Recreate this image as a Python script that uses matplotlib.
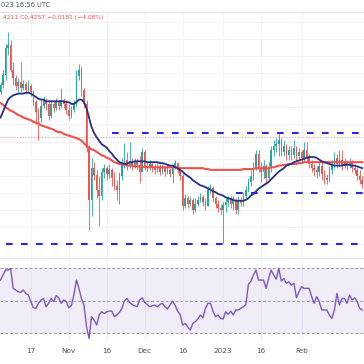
import numpy as np
import pandas as pd
import matplotlib
matplotlib.use("Agg")
import matplotlib.pyplot as plt
from matplotlib.lines import Line2D

# daily candles, 2022-10-05 .. 2023-02-25
start_date = "2022-10-05"
open0 = 0.478
closes = [0.486, 0.498, 0.529, 0.533, 0.504, 0.494, 0.485, 0.490, 0.483, 0.487,
          0.480, 0.485, 0.478, 0.466, 0.455, 0.448, 0.462, 0.469, 0.464, 0.450,
          0.464, 0.459, 0.466, 0.462, 0.469, 0.464, 0.457, 0.450, 0.457, 0.464,
          0.497, 0.504, 0.480, 0.464, 0.413, 0.352, 0.389, 0.381, 0.364, 0.357,
          0.385, 0.389, 0.382, 0.387, 0.378, 0.368, 0.364, 0.380, 0.394, 0.399,
          0.392, 0.396, 0.392, 0.396, 0.393, 0.385, 0.408, 0.392, 0.389, 0.394,
          0.389, 0.387, 0.392, 0.385, 0.389, 0.385, 0.387, 0.382, 0.390, 0.395,
          0.387, 0.380, 0.345, 0.354, 0.347, 0.352, 0.340, 0.347, 0.352, 0.355,
          0.350, 0.345, 0.364, 0.366, 0.354, 0.347, 0.343, 0.340, 0.346, 0.350,
          0.354, 0.347, 0.352, 0.340, 0.352, 0.348, 0.357, 0.364, 0.373, 0.380,
          0.389, 0.406, 0.389, 0.385, 0.392, 0.378, 0.389, 0.410, 0.415, 0.417,
          0.422, 0.408, 0.415, 0.404, 0.410, 0.404, 0.413, 0.403, 0.408, 0.401,
          0.410, 0.401, 0.394, 0.389, 0.387, 0.385, 0.392, 0.382, 0.378, 0.375,
          0.387, 0.394, 0.401, 0.394, 0.399, 0.392, 0.396, 0.392, 0.396, 0.389,
          0.387, 0.380, 0.375, 0.371]
highs = [0.490, 0.504, 0.534, 0.548, 0.539, 0.513, 0.498, 0.494, 0.513, 0.492,
         0.490, 0.492, 0.487, 0.480, 0.469, 0.459, 0.469, 0.473, 0.471, 0.469,
         0.469, 0.469, 0.471, 0.469, 0.483, 0.471, 0.469, 0.464, 0.462, 0.469,
         0.504, 0.511, 0.508, 0.483, 0.469, 0.416, 0.401, 0.396, 0.387, 0.380,
         0.389, 0.394, 0.392, 0.394, 0.389, 0.385, 0.375, 0.385, 0.401, 0.418,
         0.408, 0.420, 0.401, 0.401, 0.401, 0.403, 0.413, 0.410, 0.396, 0.399,
         0.396, 0.394, 0.396, 0.394, 0.394, 0.392, 0.393, 0.389, 0.394, 0.399,
         0.396, 0.389, 0.382, 0.359, 0.357, 0.357, 0.354, 0.354, 0.357, 0.360,
         0.358, 0.354, 0.368, 0.371, 0.368, 0.357, 0.352, 0.347, 0.350, 0.354,
         0.357, 0.357, 0.357, 0.354, 0.357, 0.355, 0.361, 0.368, 0.378, 0.387,
         0.396, 0.410, 0.410, 0.396, 0.399, 0.394, 0.396, 0.415, 0.422, 0.424,
         0.431, 0.424, 0.422, 0.417, 0.415, 0.415, 0.422, 0.415, 0.413, 0.410,
         0.420, 0.420, 0.406, 0.399, 0.394, 0.392, 0.396, 0.396, 0.387, 0.382,
         0.392, 0.399, 0.408, 0.406, 0.410, 0.410, 0.401, 0.399, 0.401, 0.399,
         0.394, 0.389, 0.387, 0.380]
lows = [0.476, 0.483, 0.492, 0.521, 0.501, 0.486, 0.480, 0.478, 0.478, 0.480,
        0.476, 0.478, 0.473, 0.462, 0.441, 0.422, 0.443, 0.459, 0.457, 0.445,
        0.448, 0.455, 0.457, 0.457, 0.459, 0.459, 0.452, 0.445, 0.448, 0.455,
        0.462, 0.492, 0.473, 0.459, 0.408, 0.317, 0.333, 0.375, 0.354, 0.322,
        0.352, 0.378, 0.375, 0.378, 0.368, 0.364, 0.352, 0.347, 0.375, 0.389,
        0.387, 0.389, 0.387, 0.389, 0.387, 0.372, 0.385, 0.387, 0.385, 0.387,
        0.385, 0.382, 0.385, 0.381, 0.382, 0.380, 0.382, 0.379, 0.372, 0.388,
        0.383, 0.375, 0.340, 0.343, 0.343, 0.345, 0.336, 0.338, 0.345, 0.350,
        0.345, 0.340, 0.345, 0.359, 0.350, 0.343, 0.338, 0.336, 0.302, 0.338,
        0.345, 0.343, 0.340, 0.336, 0.336, 0.345, 0.345, 0.354, 0.361, 0.368,
        0.375, 0.387, 0.385, 0.373, 0.378, 0.371, 0.375, 0.385, 0.403, 0.408,
        0.403, 0.403, 0.403, 0.399, 0.399, 0.399, 0.401, 0.396, 0.399, 0.396,
        0.396, 0.396, 0.389, 0.385, 0.380, 0.378, 0.380, 0.375, 0.371, 0.371,
        0.373, 0.382, 0.389, 0.389, 0.392, 0.387, 0.389, 0.387, 0.389, 0.385,
        0.382, 0.375, 0.371, 0.366]

# moving averages as shown on the chart
ema20 = [0.448, 0.455, 0.462, 0.469, 0.472, 0.474, 0.475, 0.476, 0.476, 0.476,
         0.477, 0.477, 0.476, 0.474, 0.472, 0.470, 0.469, 0.469, 0.467, 0.467,
         0.467, 0.467, 0.467, 0.467, 0.467, 0.467, 0.466, 0.466, 0.464, 0.464,
         0.466, 0.469, 0.469, 0.466, 0.459, 0.448, 0.437, 0.430, 0.425, 0.421,
         0.417, 0.415, 0.413, 0.409, 0.406, 0.402, 0.399, 0.396, 0.395, 0.394,
         0.394, 0.396, 0.396, 0.397, 0.397, 0.397, 0.397, 0.397, 0.396, 0.396,
         0.396, 0.396, 0.396, 0.395, 0.395, 0.394, 0.393, 0.392, 0.392, 0.390,
         0.389, 0.387, 0.385, 0.382, 0.380, 0.378, 0.375, 0.373, 0.371, 0.369,
         0.368, 0.367, 0.365, 0.364, 0.362, 0.361, 0.359, 0.358, 0.357, 0.355,
         0.354, 0.353, 0.352, 0.351, 0.351, 0.351, 0.351, 0.352, 0.354, 0.357,
         0.359, 0.362, 0.365, 0.367, 0.369, 0.371, 0.373, 0.376, 0.379, 0.382,
         0.385, 0.387, 0.389, 0.392, 0.393, 0.394, 0.396, 0.397, 0.398, 0.399,
         0.400, 0.401, 0.402, 0.402, 0.402, 0.401, 0.399, 0.397, 0.396, 0.395,
         0.394, 0.393, 0.392, 0.392, 0.392, 0.392, 0.393, 0.393, 0.393, 0.392,
         0.392, 0.391, 0.390, 0.389]
sma50 = [0.465, 0.463, 0.460, 0.458, 0.456, 0.455, 0.453, 0.451, 0.450, 0.448,
         0.447, 0.446, 0.445, 0.443, 0.442, 0.441, 0.439, 0.438, 0.437, 0.436,
         0.435, 0.434, 0.432, 0.431, 0.431, 0.429, 0.428, 0.427, 0.426, 0.425,
         0.424, 0.423, 0.421, 0.418, 0.415, 0.413, 0.411, 0.410, 0.408, 0.406,
         0.404, 0.403, 0.401, 0.400, 0.398, 0.396, 0.395, 0.394, 0.393, 0.393,
         0.392, 0.392, 0.392, 0.391, 0.391, 0.391, 0.391, 0.390, 0.390, 0.390,
         0.390, 0.390, 0.390, 0.390, 0.390, 0.390, 0.390, 0.390, 0.390, 0.390,
         0.390, 0.389, 0.389, 0.389, 0.389, 0.389, 0.389, 0.389, 0.389, 0.389,
         0.389, 0.388, 0.388, 0.387, 0.387, 0.387, 0.387, 0.387, 0.387, 0.387,
         0.387, 0.387, 0.387, 0.387, 0.387, 0.387, 0.388, 0.388, 0.388, 0.388,
         0.388, 0.389, 0.389, 0.389, 0.389, 0.389, 0.389, 0.390, 0.390, 0.391,
         0.392, 0.392, 0.393, 0.393, 0.394, 0.394, 0.394, 0.394, 0.395, 0.395,
         0.396, 0.396, 0.396, 0.396, 0.396, 0.396, 0.396, 0.396, 0.396, 0.396,
         0.396, 0.396, 0.396, 0.396, 0.396, 0.396, 0.396, 0.396, 0.396, 0.396,
         0.396, 0.396, 0.396, 0.396]
rsi = [62.6, 65.7, 68.8, 68.8, 69.8, 57.5, 56.5, 55.4, 55.0, 56.5,
       54.4, 53.4, 49.3, 45.6, 45.2, 48.3, 50.3, 51.3, 46.2, 48.3,
       51.3, 49.3, 53.0, 51.7, 48.3, 50.3, 49.3, 45.6, 46.8, 53.4,
       62.6, 57.5, 51.3, 47.2, 33.9, 26.7, 40.1, 38.0, 34.9, 41.1,
       43.1, 42.1, 43.1, 43.5, 43.5, 40.1, 41.1, 42.7, 45.2, 49.9,
       51.3, 48.9, 47.6, 46.8, 46.2, 50.3, 51.7, 48.9, 47.6, 46.2,
       46.8, 47.2, 46.2, 47.6, 48.3, 46.2, 44.8, 47.2, 49.7, 47.2,
       43.5, 41.5, 34.9, 35.9, 33.9, 31.8, 35.9, 37.0, 38.6, 41.1,
       39.4, 45.2, 48.3, 48.3, 43.5, 40.1, 41.1, 39.0, 38.6, 43.1,
       41.5, 43.5, 41.1, 44.2, 44.2, 45.2, 46.2, 47.6, 60.0, 62.0,
       65.7, 68.8, 62.6, 62.6, 62.6, 57.5, 63.6, 68.8, 65.7, 63.2,
       69.8, 62.0, 63.6, 60.6, 61.6, 59.5, 60.6, 51.7, 55.4, 58.5,
       57.5, 57.5, 57.5, 52.4, 48.3, 52.4, 49.3, 44.2, 44.2, 44.2,
       41.1, 39.0, 44.2, 54.4, 47.2, 51.3, 51.3, 48.3, 53.4, 50.3,
       51.7, 49.3, 45.2, 44.2]

# horizontal levels drawn on the chart and the date they start
levels = [0.430, 0.360, 0.300]
level_starts = ["2022-11-18", "2023-01-06", "2022-10-07"]
last_close = 0.4257

tick_dates = ["2022-10-17", "2022-11-01", "2022-11-16", "2022-12-01",
              "2022-12-16", "2023-01-01", "2023-01-16", "2023-02-01"]
tick_labels = ["17", "Nov", "16", "Dec", "16", "2023", "16", "Feb"]

header_top = "023 16:56 UTC"
header_ohlc = ".4211 C0.4257 \u22120.0181 (\u22124.08%)"

GREEN = "#26a69a"
RED = "#ef5350"
GRID = "#f0f3fa"

dates = pd.date_range(start_date, periods=len(closes), freq="D")
x = np.arange(len(dates))
c = np.array(closes)
o = np.r_[open0, c[:-1]]
up = c >= o
cols = np.where(up, GREEN, RED)

def day_of(s):
    return (pd.Timestamp(s) - dates[0]).days

fig = plt.figure(figsize=(3.64, 3.64), dpi=100)
ax = fig.add_axes([0, 106 / 364, 1, 246 / 364])
axr = fig.add_axes([0, 23 / 364, 1, 83 / 364], sharex=ax)

for a in (ax, axr):
    for s in a.spines.values():
        s.set_visible(False)
    a.tick_params(length=0)

tick_pos = [day_of(d) for d in tick_dates]

# price pane
ax.set_xlim(-0.2, 143.7)
ax.set_ylim(0.2842, 0.5712)
ax.set_yticks(np.arange(0.30, 0.58, 0.02))
ax.set_yticklabels([])
ax.set_xticks(tick_pos)
ax.tick_params(labelbottom=False)
ax.grid(True, color=GRID, lw=0.8)
ax.set_axisbelow(True)

ax.vlines(x, lows, highs, colors=cols, lw=0.6, zorder=2)
body = np.maximum(np.abs(c - o), 0.0008)
ax.bar(x, body, bottom=np.minimum(o, c), width=0.62, color=cols, lw=0, zorder=3)

ax.plot(x, sma50, color="#f2514c", lw=1.5, zorder=4)
ax.plot(x, ema20, color="#23318a", lw=1.3, zorder=5)

ax.axhline(last_close, color="#f5a08f", lw=0.8, ls=(0, (1, 1.5)), zorder=1)
for lvl, st in zip(levels, level_starts):
    ax.hlines(lvl, day_of(st), 143.7, colors="#2b2bd6", lw=1.5,
              linestyles=(0, (3.2, 4.0)), zorder=6)

# RSI pane
axr.set_ylim(25.1, 76.2)
axr.set_yticks([])
axr.grid(True, axis="x", color=GRID, lw=0.8)
axr.set_axisbelow(True)
axr.axhspan(30, 70, color="#7e57c2", alpha=0.1, lw=0)
for lvl in (70, 50, 30):
    axr.axhline(lvl, color="#9c98ac", lw=0.7, ls=(0, (3, 2)))
axr.plot(x, rsi, color="#7e57c2", lw=1.0)
axr.set_xticks(tick_pos)
axr.set_xticklabels(tick_labels, fontsize=5.2, color="#50535e")
axr.tick_params(axis="x", pad=5)

# separators and header
fig.add_artist(Line2D([0, 1], [1 - 12 / 364] * 2, color="#e0e3eb", lw=0.8))
fig.add_artist(Line2D([0, 1], [106 / 364] * 2, color="#e0e3eb", lw=0.6))
fig.text(0.002, 1 - 5 / 364, header_top, fontsize=4.8, color="#50535e", va="center")
fig.text(0.002, 1 - 17.5 / 364, header_ohlc, fontsize=4.3, color=RED, va="center")

fig.savefig("out.png", dpi=100, facecolor="white")
